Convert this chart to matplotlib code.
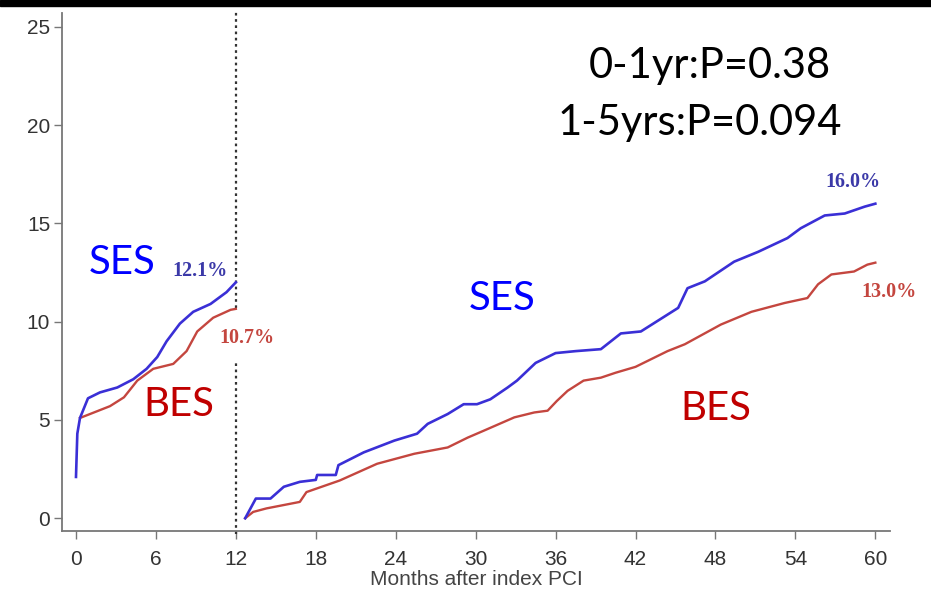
import numpy as np
import matplotlib.pyplot as plt
from matplotlib.patches import Rectangle

# months / cumulative incidence (%)
ses_m1 = [0.0, 0.1, 0.3, 0.9, 1.8, 3.1, 4.3, 5.3, 6.1, 6.8, 7.8, 8.8, 10.1, 11.3, 12.0]
ses_v1 = [2.1, 4.3, 5.1, 6.1, 6.4, 6.65, 7.07, 7.6, 8.2, 9.0, 9.9, 10.5, 10.9, 11.5, 12.0]
bes_m1 = [0.3, 1.05, 2.55, 3.6, 4.6, 5.8, 7.3, 8.3, 9.1, 10.3, 11.6, 12.0]
bes_v1 = [5.1, 5.3, 5.7, 6.15, 7.0, 7.6, 7.85, 8.5, 9.5, 10.2, 10.6, 10.65]

ses_m2 = [12.7, 13.5, 14.6, 15.6, 16.8, 18.0, 18.1, 19.5, 19.7, 21.6, 23.9, 25.6, 26.4,
          27.9, 29.1, 30.1, 31.1, 32.4, 33.1, 34.5, 36.0, 37.5, 39.4, 40.9, 42.4, 45.2,
          45.9, 47.2, 49.4, 51.2, 53.4, 54.4, 56.2, 57.7, 59.2, 60.0]
ses_v2 = [0.0, 1.0, 1.0, 1.6, 1.85, 1.95, 2.2, 2.2, 2.7, 3.35, 3.95, 4.3, 4.8,
          5.3, 5.8, 5.8, 6.05, 6.65, 7.0, 7.9, 8.4, 8.5, 8.6, 9.4, 9.5, 10.7,
          11.7, 12.05, 13.05, 13.55, 14.25, 14.75, 15.4, 15.5, 15.85, 16.0]
bes_m2 = [12.7, 13.3, 14.3, 16.8, 17.3, 19.8, 22.6, 25.4, 27.9, 29.4, 30.6, 32.9, 34.4,
          35.4, 36.1, 36.9, 38.1, 39.4, 40.5, 42.0, 43.5, 44.4, 45.7, 48.4, 50.7,
          53.2, 54.9, 55.7, 56.7, 58.4, 59.4, 60.0]
bes_v2 = [0.0, 0.32, 0.5, 0.83, 1.33, 1.92, 2.77, 3.28, 3.6, 4.1, 4.45, 5.13, 5.38,
          5.47, 5.97, 6.48, 7.0, 7.15, 7.4, 7.7, 8.2, 8.5, 8.85, 9.85, 10.5,
          10.95, 11.2, 11.9, 12.4, 12.55, 12.9, 13.0]

x_ticks = [0, 6, 12, 18, 24, 30, 36, 42, 48, 54, 60]
y_ticks = [0, 5, 10, 15, 20, 25]

ses_col = "#3a2fd6"
bes_col = "#c4463f"

fig = plt.figure(figsize=(9.31, 5.90), dpi=100)
fig.patch.set_facecolor("white")
fig.add_artist(Rectangle((0, 1 - 6 / 590), 1, 6 / 590, transform=fig.transFigure,
                         color="black", zorder=10))

ax = fig.add_axes([62 / 931, 1 - 531 / 590, 828 / 931, 518 / 590])

# dotted landmark line at 12 months (gap behind the 10.7% label)
ax.vlines(12, -0.8, 8.0, colors="#333333", linestyles=(0, (1.2, 1.6)), lw=1.6, clip_on=False)
ax.vlines(12, 10.7, 25.8, colors="#333333", linestyles=(0, (1.2, 1.6)), lw=1.6, clip_on=False)

ax.plot(bes_m1, bes_v1, color=bes_col, lw=1.7)
ax.plot(ses_m1, ses_v1, color=ses_col, lw=1.9)
ax.plot(bes_m2, bes_v2, color=bes_col, lw=1.7)
ax.plot(ses_m2, ses_v2, color=ses_col, lw=1.9)

ax.set_xlim(-1.05, 61.1)
ax.set_ylim(-0.65, 25.7)
ax.set_xticks(x_ticks)
ax.set_yticks(y_ticks)
ax.tick_params(axis="both", direction="out", length=6, width=1, color="#777777",
               labelsize=15, labelcolor="#333333", pad=2.5)
ax.tick_params(axis="x", pad=7.5)
for lab in ax.get_xticklabels() + ax.get_yticklabels():
    lab.set_fontfamily("Liberation Sans")
for s in ["top", "right"]:
    ax.spines[s].set_visible(False)
for s in ["left", "bottom"]:
    ax.spines[s].set_color("#777777")
    ax.spines[s].set_linewidth(1.3)

ax.set_xlabel("Months after index PCI", fontsize=15, color="#444444",
              fontfamily="Liberation Sans", labelpad=1)

big = dict(fontsize=29, fontfamily="Lato", ha="center", va="center")
ax.text(3.5, 13.0, "SES", color="#0000ff", **big)
ax.text(7.7, 5.8, "BES", color="#c00000", **big)
ax.text(32.0, 11.2, "SES", color="#0000ff", **big)
ax.text(48.0, 5.6, "BES", color="#c00000", **big)

pct = dict(fontsize=14.5, fontfamily="Liberation Serif", fontweight="bold",
           ha="center", va="center")
ax.text(9.3, 12.6, "12.1%", color="#3b39a8", **pct)
ax.text(12.85, 9.15, "10.7%", color="#c4463f", **pct)
ax.text(58.3, 17.1, "16.0%", color="#3b39a8", **pct)
ax.text(61.0, 11.5, "13.0%", color="#c4463f", clip_on=False, **pct)

pval = dict(fontsize=30, fontfamily="Lato", color="black", ha="center", va="center")
ax.text(47.6, 23.0, "0-1yr:P=0.38", **pval)
ax.text(46.8, 20.1, "1-5yrs:P=0.094", **pval)

fig.savefig("out.png", dpi=100)
